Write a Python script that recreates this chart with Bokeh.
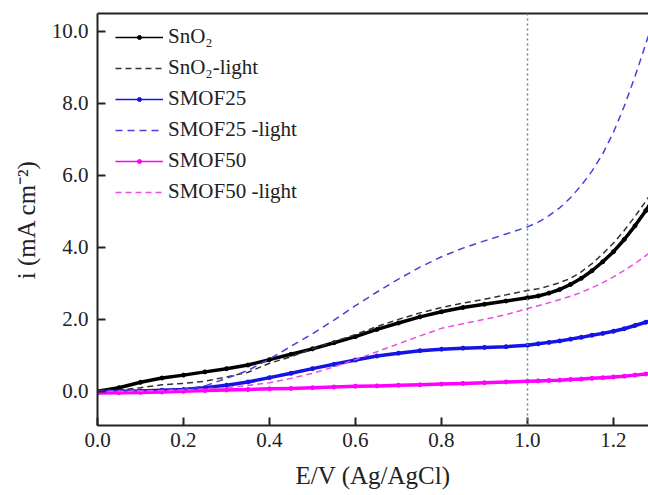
from bokeh.plotting import figure
from bokeh.models import (Range1d, LinearAxis, FixedTicker, Span, Legend, LegendItem,
                          NumeralTickFormatter)
from bokeh.embed import file_html
from bokeh.resources import INLINE

# ---- data ----
E = [0.00, 0.05, 0.10, 0.15, 0.20, 0.25, 0.30, 0.35, 0.40, 0.45, 0.50, 0.55, 0.60, 0.65,
     0.70, 0.75, 0.80, 0.85, 0.90, 0.95, 1.00, 1.025, 1.05, 1.075, 1.10, 1.125, 1.15, 1.175,
     1.20, 1.225, 1.25, 1.275, 1.30]

sno2 = [0.00, 0.10, 0.25, 0.37, 0.45, 0.54, 0.63, 0.73, 0.88, 1.03, 1.18, 1.35, 1.52, 1.72,
        1.90, 2.07, 2.21, 2.33, 2.42, 2.51, 2.60, 2.65, 2.73, 2.83, 2.97, 3.14, 3.35, 3.60,
        3.88, 4.22, 4.60, 5.02, 5.50]
sno2_light = [0.00, 0.03, 0.10, 0.18, 0.22, 0.28, 0.40, 0.53, 0.78, 0.96, 1.18, 1.38, 1.58, 1.80,
              2.00, 2.18, 2.33, 2.45, 2.56, 2.68, 2.80, 2.85, 2.93, 3.02, 3.14, 3.32, 3.55, 3.82,
              4.12, 4.47, 4.86, 5.28, 5.75]
smof25 = [0.00, 0.00, 0.01, 0.03, 0.05, 0.10, 0.17, 0.26, 0.38, 0.50, 0.63, 0.75, 0.87, 0.98,
          1.06, 1.13, 1.17, 1.20, 1.22, 1.24, 1.28, 1.32, 1.36, 1.40, 1.45, 1.50, 1.56, 1.61,
          1.67, 1.74, 1.83, 1.92, 2.00]
smof25_light = [0.00, 0.00, 0.01, 0.03, 0.06, 0.15, 0.36, 0.58, 0.90, 1.25, 1.60, 1.98, 2.38, 2.76,
                3.12, 3.45, 3.74, 3.98, 4.18, 4.37, 4.57, 4.70, 4.88, 5.10, 5.38, 5.72, 6.12, 6.60,
                7.20, 7.92, 8.75, 9.65, 10.60]
smof50 = [-0.05, -0.04, -0.03, -0.02, 0.00, 0.02, 0.04, 0.05, 0.07, 0.08, 0.10, 0.12, 0.14, 0.15,
          0.17, 0.18, 0.20, 0.22, 0.24, 0.26, 0.28, 0.29, 0.30, 0.31, 0.33, 0.34, 0.36, 0.38,
          0.40, 0.42, 0.45, 0.48, 0.51]
smof50_light = [0.00, 0.00, 0.01, 0.02, 0.04, 0.07, 0.10, 0.16, 0.24, 0.36, 0.50, 0.68, 0.88, 1.10,
                1.32, 1.54, 1.75, 1.88, 2.00, 2.13, 2.30, 2.38, 2.46, 2.55, 2.64, 2.75, 2.88, 3.02,
                3.18, 3.36, 3.55, 3.77, 4.00]

labels = ["SnO\u2082", "SnO\u2082-light", "SMOF25", "SMOF25 -light", "SMOF50", "SMOF50 -light"]
x_ticks = [0.0, 0.2, 0.4, 0.6, 0.8, 1.0, 1.2]
y_ticks = [0.0, 2.0, 4.0, 6.0, 8.0, 10.0]
marker_E = 1.0

FONT = "'Liberation Serif', 'Times New Roman', serif"
TXT = "#222222"

p = figure(width=648, height=495, output_backend="svg", toolbar_location=None,
           x_range=Range1d(0, 1.2814), y_range=Range1d(-0.95, 10.5),
           min_border_left=97, min_border_right=0, min_border_top=13, min_border_bottom=70,
           x_axis_label="E/V (Ag/AgCl)", y_axis_label="i (mA cm\u207b\u00b2)")
p.outline_line_color = None
p.grid.visible = False
p.background_fill_color = "white"
p.border_fill_color = "white"

for ax, ticks in ((p.xaxis[0], x_ticks), (p.yaxis[0], y_ticks)):
    ax.ticker = FixedTicker(ticks=ticks)
    ax.formatter = NumeralTickFormatter(format="0.0")
    ax.major_tick_in = 8
    ax.major_tick_out = 0
    ax.minor_tick_line_color = None
    ax.axis_line_width = 2
    ax.axis_line_color = TXT
    ax.major_tick_line_width = 2
    ax.major_tick_line_color = TXT
    ax.major_label_text_font = FONT
    ax.major_label_text_font_size = "21px"
    ax.major_label_text_color = TXT
    ax.axis_label_text_font = FONT
    ax.axis_label_text_font_size = "25px"
    ax.axis_label_text_font_style = "normal"
    ax.axis_label_text_color = TXT

p.xaxis[0].major_label_standoff = 7
p.xaxis[0].axis_label_standoff = 12
p.yaxis[0].major_label_standoff = 9
p.yaxis[0].axis_label_standoff = 9

top = LinearAxis(ticker=FixedTicker(ticks=[]), major_label_text_font_size="0px",
                 major_tick_out=0, major_tick_in=0, minor_tick_line_color=None,
                 major_label_standoff=0, axis_line_width=2, axis_line_color=TXT)
p.add_layout(top, "above")

p.add_layout(Span(location=marker_E, dimension="height", line_color="#3c9a9a",
                  line_dash="2 3", line_width=1.5))

series = [
    (sno2, "black", "solid"),
    (sno2_light, "#333333", "6 4"),
    (smof25, "#1414e6", "solid"),
    (smof25_light, "#4a40d8", "7 5"),
    (smof50, "#ff00ff", "solid"),
    (smof50_light, "#e850e0", "6 4"),
]
items = []
for (ys, col, dash), lab in zip(series, labels):
    if dash == "solid":
        thin = p.line(E, ys, line_color=col, line_width=1.5)
        p.line(E, ys, line_color=col, line_width=3.5, line_join="round")
        s = p.scatter(E, ys, size=4, color=col)
        items.append(LegendItem(label=lab, renderers=[thin, s]))
    else:
        r = p.line(E, ys, line_color=col, line_width=1.5, line_dash=dash)
        items.append(LegendItem(label=lab, renderers=[r]))

legend = Legend(items=items, location=(18, 221), padding=0, margin=0, spacing=6,
                glyph_width=48, glyph_height=10, label_standoff=5, label_height=24,
                label_text_font=FONT, label_text_font_size="21px", label_text_color=TXT,
                border_line_color=None, background_fill_alpha=0)
p.add_layout(legend, "center")

open("out.html", "w").write(file_html(p, INLINE))
